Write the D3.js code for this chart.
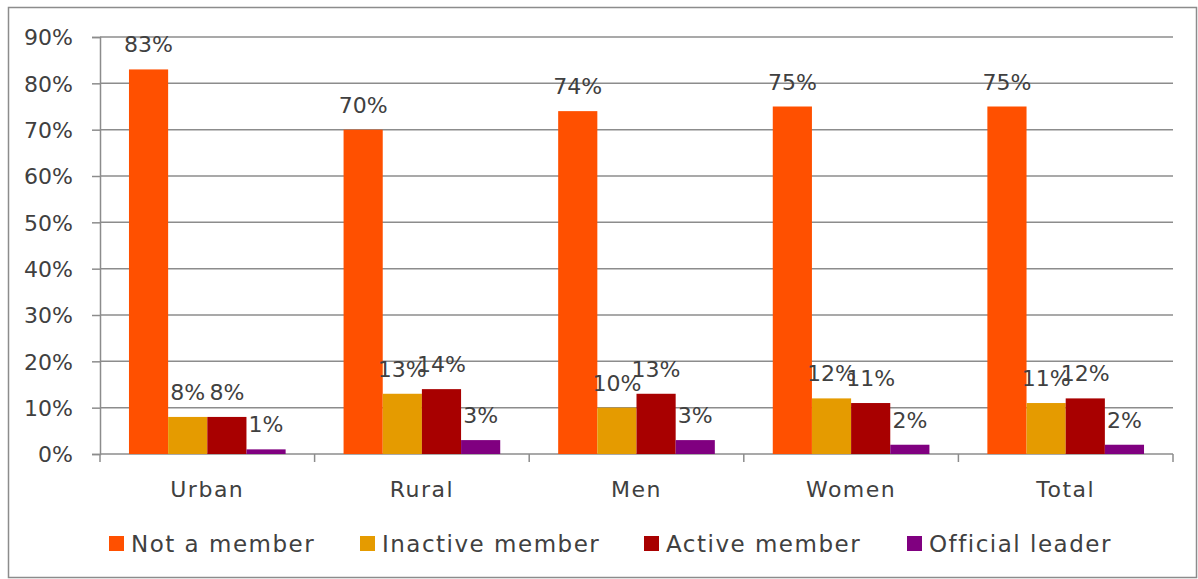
<!DOCTYPE html>
<html>
<head>
<meta charset="utf-8">
<script src="https://cdn.jsdelivr.net/npm/d3@7"></script>
<style>
  body { margin: 0; background: #fff; }
  svg text { font-family: "DejaVu Sans", "Lato", sans-serif; fill: #404040; }
</style>
</head>
<body>
<div id="chart-area"><svg></svg></div>
<script>
const categories = ["Urban", "Rural", "Men", "Women", "Total"];
const seriesNames = ["Not a member", "Inactive member", "Active member", "Official leader"];
const notMember = [83, 70, 74, 75, 75];
const inactiveMember = [8, 13, 10, 12, 11];
const activeMember = [8, 14, 13, 11, 12];
const officialLeader = [1, 3, 3, 2, 2];
const yTicks = [0, 10, 20, 30, 40, 50, 60, 70, 80, 90];
const colors = ["#ff5000", "#e59b00", "#a80000", "#800080"];

const chartSize = { width: 1198, height: 579 };
const margin = { left: 100, right: 25, top: 37, bottom: 125 };
const width = chartSize.width - margin.left - margin.right;
const height = chartSize.height - margin.top - margin.bottom;

const seriesValues = [notMember, inactiveMember, activeMember, officialLeader];

const svg = d3
  .select("#chart-area svg")
  .attr("width", chartSize.width)
  .attr("height", chartSize.height);

svg
  .append("rect")
  .attr("x", 8.5)
  .attr("y", 7.5)
  .attr("width", chartSize.width - 10)
  .attr("height", chartSize.height - 9)
  .attr("fill", "none")
  .attr("stroke", "#8c8c8c")
  .attr("stroke-width", 1.5);

const g = svg
  .append("g")
  .attr("transform", `translate(${margin.left},${margin.top})`);

const y = d3.scaleLinear().domain([0, 90]).range([height, 0]);
const x0 = d3.scaleBand().domain(categories).range([0, width]).paddingInner(0.27).paddingOuter(0.135);
const x1 = d3.scaleBand().domain(seriesNames).range([0, x0.bandwidth()]);

// gridlines
g.append("g")
  .selectAll("line")
  .data(yTicks.filter(t => t > 0))
  .join("line")
  .attr("x1", 0)
  .attr("x2", width)
  .attr("y1", d => y(d))
  .attr("y2", d => y(d))
  .attr("stroke", "#8c8c8c")
  .attr("stroke-width", 1.5);

// y axis
const yAxis = g
  .append("g")
  .call(d3.axisLeft(y).tickValues(yTicks).tickFormat(d => d + "%").tickSize(8).tickPadding(19));
yAxis.select(".domain").attr("stroke", "#8c8c8c").attr("stroke-width", 1.5);
yAxis.selectAll(".tick line").attr("stroke", "#8c8c8c").attr("stroke-width", 1.5);
yAxis.selectAll(".tick text").attr("font-size", 22).attr("dy", "0.36em");

// x axis
const xAxis = g.append("g").attr("transform", `translate(0,${height})`);
xAxis
  .append("line")
  .attr("x1", 0)
  .attr("x2", width)
  .attr("stroke", "#8c8c8c")
  .attr("stroke-width", 1.5);
xAxis
  .selectAll(".sep")
  .data(d3.range(categories.length + 1))
  .join("line")
  .attr("x1", i => (i * width) / categories.length)
  .attr("x2", i => (i * width) / categories.length)
  .attr("y1", 0)
  .attr("y2", 8)
  .attr("stroke", "#8c8c8c")
  .attr("stroke-width", 1.5);
xAxis
  .selectAll(".cat")
  .data(categories)
  .join("text")
  .attr("x", d => x0(d) + x0.bandwidth() / 2)
  .attr("y", 43)
  .attr("text-anchor", "middle")
  .attr("font-size", 22)
  .attr("letter-spacing", 1.5)
  .text(d => d);

// bars
const groups = g
  .selectAll(".group")
  .data(categories)
  .join("g")
  .attr("transform", d => `translate(${x0(d)},0)`);

const barData = (cat, ci) =>
  seriesNames.map((name, si) => ({ name, si, value: seriesValues[si][ci] }));

groups
  .selectAll("rect")
  .data(barData)
  .join("rect")
  .attr("x", d => x1(d.name))
  .attr("y", d => y(d.value))
  .attr("width", x1.bandwidth())
  .attr("height", d => height - y(d.value))
  .attr("fill", d => colors[d.si]);

groups
  .selectAll(".label")
  .data(barData)
  .join("text")
  .attr("x", d => x1(d.name) + x1.bandwidth() / 2)
  .attr("y", d => y(d.value) - 17)
  .attr("text-anchor", "middle")
  .attr("font-size", 22)
  .text(d => d.value + "%");

// legend
const legendX = [109, 360, 644, 907];
const legend = svg
  .append("g")
  .selectAll("g")
  .data(seriesNames)
  .join("g")
  .attr("transform", (d, i) => `translate(${legendX[i]},536)`);
legend
  .append("rect")
  .attr("width", 15)
  .attr("height", 15)
  .attr("fill", (d, i) => colors[i]);
legend
  .append("text")
  .attr("x", 22)
  .attr("y", 16)
  .attr("font-size", 23)
  .attr("letter-spacing", 1.5)
  .text(d => d);
</script>
</body>
</html>
